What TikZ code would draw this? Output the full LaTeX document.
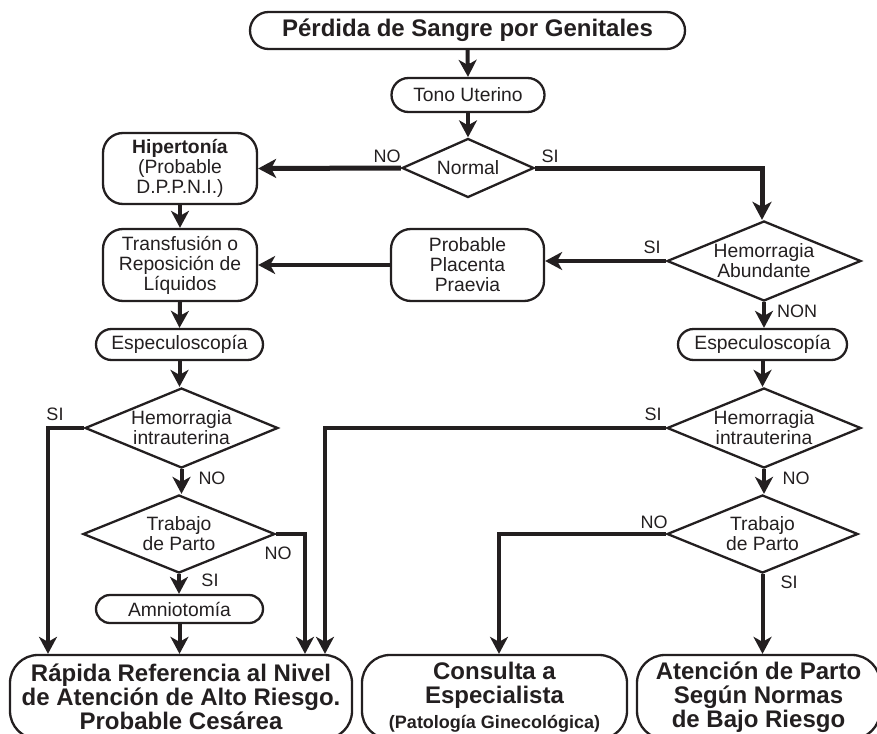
\documentclass[tikz,border=0pt]{standalone}
\usepackage{fontspec}
\setmainfont{Liberation Sans}
\usetikzlibrary{shapes.geometric,shapes.misc,arrows.meta,calc}
\definecolor{ink}{HTML}{231F20}
\begin{document}
\begin{tikzpicture}[x=1pt,y=-1pt,
  txt/.style={font=\fontsize{19.3}{20}\selectfont},
  bigtxt/.style={font=\bfseries\fontsize{24}{24}\selectfont},
  pill/.style={draw=ink, text=ink, line width=2.3pt, rounded rectangle, align=center, inner sep=0pt},
  rbox/.style={draw=ink, text=ink, line width=2.3pt, rounded corners=#1, rectangle, align=center, inner sep=0pt},
  dia/.style={draw=ink, text=ink, line width=2.3pt, diamond, align=center, inner sep=0pt, txt},
  lbl/.style={text=ink, inner sep=0pt, font=\fontsize{18}{18}\selectfont},
  conn/.style={draw=ink, line width=4pt, -{Stealth[length=17pt,width=18pt,inset=5pt]}},
  thickconn/.style={draw=ink, line width=5pt, -{Stealth[length=18pt,width=19pt,inset=5pt]}}
]
\useasboundingbox (0,0) rectangle (877,733);

% nodes
\node[pill, font=\bfseries\fontsize{24}{24}\selectfont, minimum width=435, minimum height=37] (top) at (467.5,30.5) {Pérdida de Sangre por Genitales};
\node[pill, txt, minimum width=153, minimum height=34] (tono) at (468,95) {Tono Uterino};
\node[dia, minimum width=132, minimum height=59, shape aspect=2.24] (normal) at (468,168) {Normal};
\node[rbox=20, txt, minimum width=154, minimum height=71] (hiper) at (180,168.5) {\textbf{Hipertonía}\\(Probable\\D.P.P.N.I.)};
\node[rbox=20, txt, minimum width=154, minimum height=72] (transf) at (180,265) {Transfusión o\\Reposición de\\Líquidos};
\node[rbox=20, txt, minimum width=153, minimum height=72] (placenta) at (467.5,265) {Probable\\Placenta\\Praevia};
\node[dia, minimum width=194, minimum height=80, shape aspect=2.42] (hemab) at (764,261) {Hemorragia\\Abundante};
\node[pill, txt, minimum width=167, minimum height=31] (espL) at (179.5,344.5) {Especuloscopía};
\node[pill, txt, minimum width=169, minimum height=31] (espR) at (762.5,344.5) {Especuloscopía};
\node[dia, minimum width=193, minimum height=80, shape aspect=2.42] (hiL) at (181.5,428) {Hemorragia\\intrauterina};
\node[dia, minimum width=194, minimum height=80, shape aspect=2.42] (hiR) at (764,428) {Hemorragia\\intrauterina};
\node[dia, minimum width=192, minimum height=78, shape aspect=2.46] (tdpL) at (179,534) {Trabajo\\de Parto};
\node[dia, minimum width=191, minimum height=78, shape aspect=2.46] (tdpR) at (762.5,534) {Trabajo\\de Parto};
\node[pill, txt, minimum width=167, minimum height=28] (amnio) at (179.5,609) {Amniotomía};
\node[rbox=28, bigtxt, minimum width=342, minimum height=84] (refL) at (181,697) {Rápida Referencia al Nivel\\de Atención de Alto Riesgo.\\Probable Cesárea};
\node[rbox=28, bigtxt, minimum width=265, minimum height=84] (cons) at (494.5,697) {Consulta a\\Especialista\\[1pt]{\fontsize{18}{18}\selectfont (Patología Ginecológica)}};
\node[rbox=28, bigtxt, minimum width=243, minimum height=84] (aten) at (758.5,697) {Atención de Parto\\Según Normas\\de Bajo Riesgo};

% helper x positions
\coordinate (xa) at (48,0);
\coordinate (xb) at (305,0);
\coordinate (xc) at (325,0);
\coordinate (xd) at (499,0);
\coordinate (xe) at (762,0);

% connectors
\draw[conn] (top.south) -- (tono.north);
\draw[conn] (tono.south) -- (normal.north);
\draw[thickconn] (normal.west) -- (hiper.east);
\draw[thickconn] (normal.east) -| (xe |- hemab.north);
\draw[conn] (hiper.south) -- (transf.north);
\draw[conn] (hemab.west) -- (hemab.west -| placenta.east);
\draw[conn] (placenta.west) -- (transf.east);
\draw[conn] (transf.south) -- (espL.north);
\draw[conn] (hemab.south) -- (hemab.south |- espR.north);
\draw[conn] (espL.south) -- (espL.south |- hiL.north);
\draw[conn] (espR.south) -- (espR.south |- hiR.north);
\draw[conn] (hiL.west) -| (xa |- refL.north);
\draw[conn] (hiL.south) -- (hiL.south |- tdpL.north);
\draw[conn] (tdpL.east) -| (xb |- refL.north);
\draw[conn] (tdpL.south) -- (tdpL.south |- amnio.north);
\draw[conn] (amnio.south) -- (amnio.south |- refL.north);
\draw[conn] (hiR.west) -| (xc |- refL.north);
\draw[conn] (hiR.south) -- (hiR.south |- tdpR.north);
\draw[conn] (tdpR.west) -| (xd |- cons.north);
\draw[conn] (tdpR.south) -- (tdpR.south |- aten.north);

% labels
\node[lbl] (l1) at (387,156) {NO};
\node[lbl] (l2) at (550,156) {SI};
\node[lbl] (l3) at (652,247) {SI};
\node[lbl] (l4) at (797,311) {NON};
\node[lbl] (l5) at (55,414) {SI};
\node[lbl] (l6) at (653,414) {SI};
\node[lbl] (l7) at (212,478) {NO};
\node[lbl] (l8) at (796,478) {NO};
\node[lbl] (l9) at (278,553) {NO};
\node[lbl] (l10) at (210,580) {SI};
\node[lbl] (l11) at (654,522) {NO};
\node[lbl] (l12) at (789,582) {SI};
\end{tikzpicture}
\end{document}
